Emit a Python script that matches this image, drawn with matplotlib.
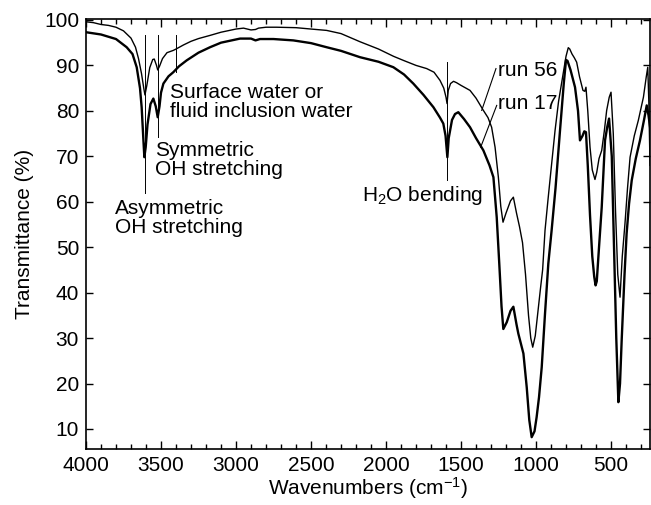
import matplotlib
matplotlib.use("Agg")
import matplotlib.pyplot as plt
from matplotlib.ticker import MultipleLocator

plt.rcParams['font.family'] = ['Liberation Sans', 'DejaVu Sans']
plt.rcParams['mathtext.fontset'] = 'custom'
plt.rcParams['mathtext.rm'] = 'Liberation Sans'
plt.rcParams['mathtext.it'] = 'Liberation Sans:italic'

# ---- data ----
run56_wn = [4000, 3950, 3900, 3850, 3800, 3750, 3700, 3670, 3650, 3630, 3615, 3607,
            3595, 3575, 3555, 3545, 3530, 3522, 3510, 3490, 3460, 3418, 3400, 3350,
            3300, 3250, 3173, 3100, 3000, 2950, 2900, 2870, 2850, 2800, 2729, 2600,
            2500, 2396, 2300, 2173, 2050, 1950, 1884, 1800, 1729, 1680, 1640, 1615,
            1600, 1593, 1585, 1570, 1550, 1530, 1500, 1440, 1400, 1351, 1320, 1296,
            1273, 1251, 1235, 1220, 1200, 1170, 1151, 1130, 1110, 1090, 1070, 1050,
            1035, 1022, 1005, 990, 970, 956, 940, 920, 900, 873, 850, 820, 800, 785,
            775, 760, 745, 729, 710, 687, 675, 667, 655, 640, 625, 607, 595, 580,
            562, 545, 529, 512, 500, 485, 470, 455, 440, 425, 407, 390, 373, 345,
            318, 284, 265, 255, 248, 240]
run56_t = [99.6, 99.4, 99.0, 98.8, 98.4, 97.6, 96.0, 94.0, 91.5, 88.2, 85.0, 83.5,
           85.5, 89.5, 91.3, 91.4, 90.0, 89.0, 89.8, 91.5, 92.8, 93.3, 93.6, 94.5,
           95.3, 95.9, 96.6, 97.3, 98.0, 98.2, 97.8, 97.9, 98.2, 98.4, 98.4, 98.3,
           98.0, 97.7, 97.0, 95.2, 93.6, 92.0, 91.1, 90.0, 89.3, 88.5, 86.7, 85.0,
           83.0, 81.6, 84.5, 86.0, 86.5, 86.2, 85.6, 84.5, 82.8, 80.1, 78.5, 76.4,
           72.0, 65.4, 59.0, 55.5, 57.5, 60.2, 61.0, 57.5, 54.5, 51.0, 44.0, 35.0,
           30.0, 28.0, 30.5, 35.0, 41.0, 45.0, 53.7, 60.5, 67.0, 75.7, 82.0, 88.0,
           92.0, 93.9, 93.6, 92.5, 91.7, 90.7, 87.5, 84.5, 84.3, 85.2, 80.0, 72.0,
           67.0, 64.9, 66.5, 69.5, 71.3, 75.5, 80.1, 83.0, 84.1, 75.0, 58.0, 44.0,
           39.0, 48.0, 55.2, 63.0, 69.8, 74.5, 77.9, 83.0, 87.5, 89.6, 82.0, 68.0]

run17_wn = [4000, 3900, 3800, 3729, 3690, 3662, 3640, 3629, 3618, 3611, 3602, 3590,
            3570, 3551, 3535, 3522, 3510, 3500, 3484, 3450, 3418, 3380, 3329, 3250,
            3173, 3100, 2973, 2900, 2870, 2840, 2750, 2618, 2500, 2396, 2300, 2173,
            2050, 1951, 1880, 1818, 1750, 1684, 1640, 1618, 1603, 1591, 1582, 1560,
            1540, 1518, 1480, 1440, 1400, 1351, 1310, 1284, 1262, 1245, 1230, 1218,
            1195, 1170, 1151, 1130, 1118, 1084, 1062, 1045, 1029, 1010, 996, 980,
            962, 940, 918, 896, 870, 840, 815, 800, 790, 770, 740, 720, 707, 690,
            678, 667, 655, 640, 625, 612, 603, 595, 580, 562, 540, 525, 513, 495,
            480, 465, 451, 440, 429, 410, 396, 380, 362, 335, 307, 280, 262, 250, 240]
run17_t = [97.3, 96.8, 95.8, 94.0, 92.5, 89.6, 85.0, 80.8, 74.0, 69.8, 72.0, 77.0,
           81.5, 82.7, 81.0, 78.6, 81.0, 84.0, 86.0, 87.6, 88.5, 89.8, 91.1, 92.8,
           94.0, 95.0, 95.9, 95.9, 95.5, 95.8, 95.8, 95.5, 94.9, 94.0, 93.2, 91.8,
           90.8, 89.6, 88.0, 86.0, 83.5, 80.8, 78.5, 77.2, 74.5, 69.8, 74.0, 78.0,
           79.3, 79.7, 78.2, 76.4, 74.0, 71.3, 68.0, 65.4, 56.6, 46.4, 37.0, 32.0,
           33.5, 36.0, 36.9, 33.0, 31.0, 26.6, 19.2, 12.0, 8.2, 9.5, 12.6, 17.0,
           23.6, 35.4, 46.4, 53.7, 63.0, 75.7, 86.0, 91.2, 91.0, 89.0, 85.2, 80.0,
           73.5, 74.5, 75.5, 75.3, 68.0, 57.0, 48.0, 43.5, 41.6, 42.5, 50.0, 58.8,
           73.5, 76.5, 78.3, 70.0, 50.0, 30.0, 15.9, 20.0, 29.5, 44.0, 53.0, 59.5,
           64.7, 69.5, 73.5, 78.0, 81.2, 79.0, 76.5]

x_ticks = [4000, 3500, 3000, 2500, 2000, 1500, 1000, 500]
y_ticks = [10, 20, 30, 40, 50, 60, 70, 80, 90, 100]

# annotation marker lines: (wavenumber, top, bottom)
mark_wn = [3607, 3522, 3402, 1593]
mark_top = [96.6, 96.6, 96.6, 90.7]
mark_bot = [62.0, 74.2, 88.5, 64.7]

FS = 15

fig = plt.figure(figsize=(6.51, 5.05), dpi=100)
ax = fig.add_axes([0.1321, 0.1109, 0.8664, 0.8505])

ax.plot(run56_wn, run56_t, color='black', lw=1.0)
ax.plot(run17_wn, run17_t, color='black', lw=1.7)

for w, t, b in zip(mark_wn, mark_top, mark_bot):
    ax.plot([w, w], [t, b], color='black', lw=0.7)

ax.set_xlim(4000, 240)
ax.set_ylim(5.6, 100.1)
ax.set_xticks(x_ticks)
ax.set_yticks(y_ticks)
ax.xaxis.set_minor_locator(MultipleLocator(100))

ax.tick_params(axis='both', which='both', direction='in', top=True, right=True,
               labelsize=FS, width=1.0)
ax.tick_params(axis='x', which='major', length=6, pad=5)
ax.tick_params(axis='x', which='minor', length=3.5)
ax.tick_params(axis='y', which='major', length=5, pad=5)
for s in ax.spines.values():
    s.set_linewidth(1.2)

ax.set_xlabel('Wavenumbers (cm$^{\\mathregular{-1}}$)', fontsize=FS, labelpad=0)
ax.set_ylabel('Transmittance (%)', fontsize=FS, labelpad=7)

ax.text(3807, 56.4, 'Asymmetric\nOH stretching', fontsize=FS, ha='left', va='center',
        linespacing=1.0)
ax.text(3540, 69.1, 'Symmetric\nOH stretching', fontsize=FS, ha='left', va='center',
        linespacing=1.0)
ax.text(3440, 82.0, 'Surface water or\nfluid inclusion water', fontsize=FS, ha='left',
        va='center', linespacing=1.0)
ax.text(2162, 61.4, 'H$_{\\mathregular{2}}$O bending', fontsize=FS, ha='left', va='center')
ax.text(1251, 88.9, 'run 56', fontsize=FS, ha='left', va='center')
ax.text(1251, 81.6, 'run 17', fontsize=FS, ha='left', va='center')

ax.plot([1267, 1362], [89.3, 80.1], color='black', lw=0.8)
ax.plot([1262, 1369], [81.2, 72.0], color='black', lw=0.8)

fig.savefig('out.png', dpi=100)
